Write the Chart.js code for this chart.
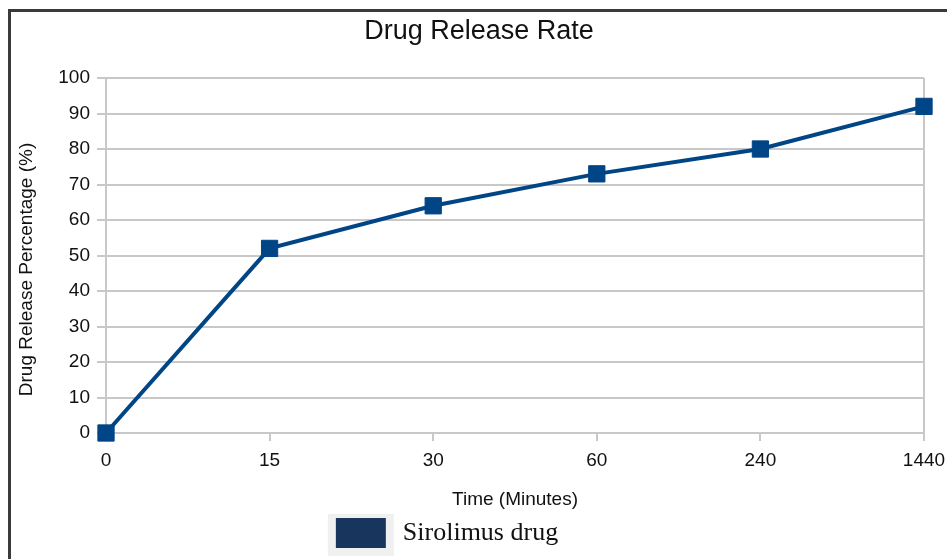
<!DOCTYPE html>
<html>
<head>
<meta charset="utf-8">
<script src="https://cdn.jsdelivr.net/npm/chart.js@4.4.0/dist/chart.umd.min.js"></script>
<style>
  html, body { margin: 0; padding: 0; background: #fff; }
  #frame {
    position: absolute; left: 8px; top: 9px;
    width: 936px; height: 547px;
    border-top: 3px solid #3a3a3a; border-left: 3px solid #3a3a3a;
  }
</style>
</head>
<body>
<div id="frame"><canvas id="myChart"></canvas></div>
<script>
// chart data
var timeLabels = ["0", "15", "30", "60", "240", "1440"];
var releasePct = [0, 52, 64, 73, 80, 92];
var seriesName = "Sirolimus drug";
var yMin = 0, yMax = 100, yStep = 10;

var lineColor = "#004586";
var legendColor = "#18355e";
var gridColor = "#c8c8c8";
var sans = "'Liberation Sans', Arial, sans-serif";

// small layout tweaks: legend sits left of centre and a bit lower,
// y axis title sits a bit below the middle of the axis
var tweaks = {
  id: "tweaks",
  afterLayout: function (chart) {
    var lg = chart.legend;
    lg.left -= 34; lg.right -= 34;
    lg.top += 3; lg.bottom += 3;
    var ys = chart.scales.y;
    if (!ys._shifted) {
      var orig = ys.drawTitle.bind(ys);
      ys.drawTitle = function () {
        chart.ctx.save();
        chart.ctx.translate(0, 14);
        orig();
        chart.ctx.restore();
      };
      ys._shifted = true;
    }
  }
};

var canvas = document.getElementById("myChart");
var myChart = new Chart(canvas, {
  type: "line",
  data: {
    labels: timeLabels,
    datasets: [{
      label: seriesName,
      data: releasePct,
      borderColor: lineColor,
      backgroundColor: lineColor,
      borderWidth: 4,
      pointStyle: "rect",
      pointRadius: 11.5,
      pointBorderWidth: 1,
      tension: 0,
      clip: false
    }]
  },
  options: {
    responsive: true,
    maintainAspectRatio: false,
    animation: false,
    layout: { padding: 0 },
    plugins: {
      tooltip: { enabled: false },
      title: {
        display: true,
        text: "Drug Release Rate",
        color: "#111",
        font: { family: sans, size: 27, weight: "normal" },
        padding: { top: 3, bottom: 30.6 }
      },
      legend: {
        position: "bottom",
        labels: {
          color: "#111",
          font: { family: "'Liberation Serif', 'Times New Roman', serif", size: 26 },
          boxWidth: 58,
          boxHeight: 38,
          padding: 0,
          generateLabels: function (chart) {
            return chart.data.datasets.map(function (ds, i) {
              return {
                text: ds.label,
                fillStyle: legendColor,
                strokeStyle: "#f0f0f0",
                lineWidth: 8,
                fontColor: "#111",
                datasetIndex: i
              };
            });
          }
        }
      }
    },
    scales: {
      x: {
        type: "category",
        offset: false,
        grid: {
          color: function (ctx) {
            return (ctx.index === 0 || ctx.index === timeLabels.length - 1) ? gridColor : "rgba(0,0,0,0)";
          },
          tickColor: gridColor,
          lineWidth: 2,
          tickLength: 8
        },
        border: { display: false },
        ticks: {
          color: "#111",
          font: { family: sans, size: 19 },
          padding: 8,
          maxRotation: 0
        },
        title: {
          display: true,
          text: "Time (Minutes)",
          color: "#111",
          font: { family: sans, size: 19 },
          padding: { top: 4, bottom: 0 }
        },
        afterFit: function (scale) {
          scale.height = 78;
          scale.paddingRight = 23;
        }
      },
      y: {
        min: yMin,
        max: yMax,
        grid: { color: gridColor, lineWidth: 2, tickLength: 9 },
        border: { display: false },
        ticks: {
          stepSize: yStep,
          color: "#111",
          font: { family: sans, size: 19 },
          padding: 7
        },
        title: {
          display: true,
          text: "Drug Release Percentage (%)",
          color: "#111",
          font: { family: sans, size: 19 },
          padding: { top: 4, bottom: 0 }
        },
        afterFit: function (scale) { scale.width = 95; }
      }
    }
  },
  plugins: [tweaks]
});
</script>
</body>
</html>
